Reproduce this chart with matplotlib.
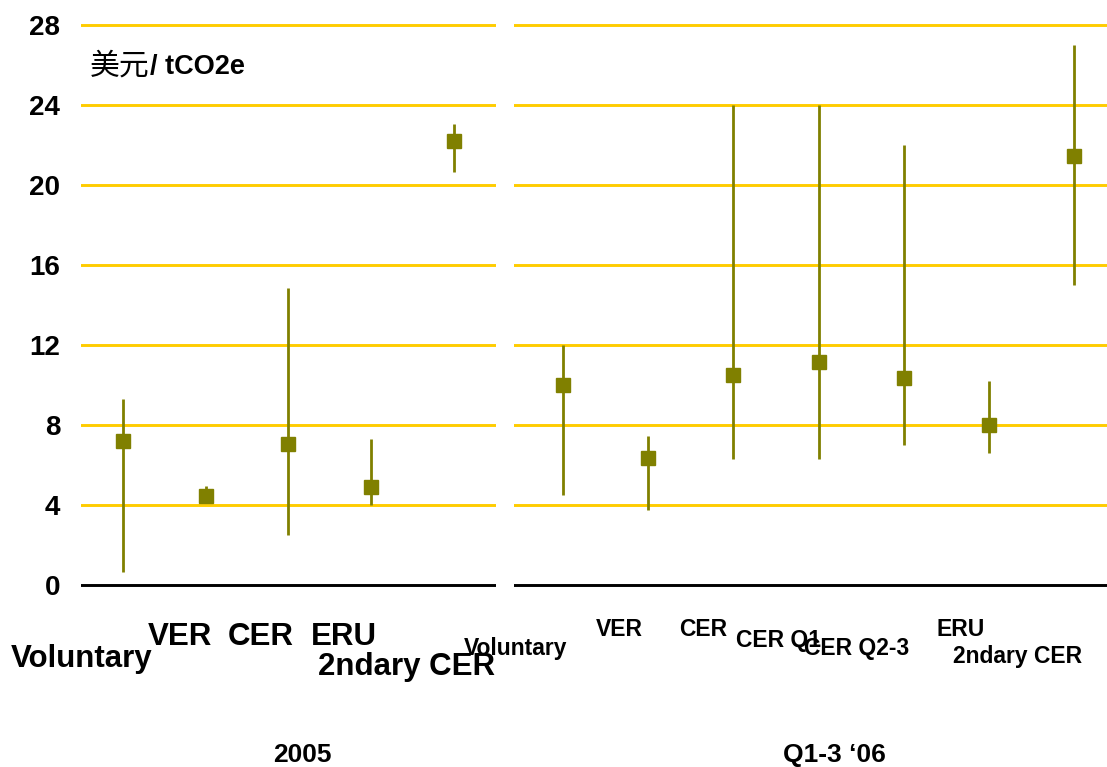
import matplotlib
matplotlib.use("Agg")
import matplotlib.pyplot as plt
from matplotlib.transforms import blended_transform_factory

plt.rcParams['font.family'] = ['Liberation Sans', 'Noto Sans CJK SC', 'DejaVu Sans']

# ---- data ----
cats_2005 = ["Voluntary", "VER", "CER", "ERU", "2ndary CER"]
mid_2005 = [7.2, 4.45, 7.05, 4.9, 22.2]
low_2005 = [0.65, 4.1, 2.5, 4.0, 20.65]
high_2005 = [9.3, 4.95, 14.85, 7.3, 23.05]

cats_06 = ["Voluntary", "VER", "CER", "CER Q1", "CER Q2-3", "ERU", "2ndary CER"]
mid_06 = [10.0, 6.35, 10.5, 11.15, 10.35, 8.0, 21.45]
low_06 = [4.5, 3.75, 6.3, 6.3, 7.0, 6.6, 15.0]
high_06 = [12.0, 7.45, 24.0, 24.0, 22.0, 10.2, 27.0]

yticks = [0, 4, 8, 12, 16, 20, 24, 28]
unit_cn = "美元"
unit_en = "/ tCO2e"
period_labels = ["2005", "Q1-3 \u201806"]

# label placement (x offset in category units, y in figure pixels from top)
lab_off_2005 = [(-0.5, 659), (-0.31, 637), (-0.34, 637), (-0.33, 637), (-0.57, 667)]
lab_off_06 = [(-0.56, 648), (-0.34, 629), (-0.35, 629), (-0.47, 641), (-0.55, 648), (-0.33, 629), (-0.66, 657)]

W, H = 1107, 767
fig = plt.figure(figsize=(W / 100, H / 100), dpi=100)

OLIVE = "#808000"
GOLD = "#FFCC00"
ylo, yhi = -0.3, 28.3
ppu = 20.0
y0px = 585
bottom_px = y0px - ylo * ppu
top_px = y0px - yhi * ppu


def make_ax(left_px, right_px, xlim):
    ax = fig.add_axes([left_px / W, 1 - bottom_px / H, (right_px - left_px) / W,
                       (bottom_px - top_px) / H])
    ax.set_xlim(*xlim)
    ax.set_ylim(ylo, yhi)
    for s in ax.spines.values():
        s.set_visible(False)
    ax.set_xticks([])
    for v in yticks:
        ax.axhline(v, color=(GOLD if v != 0 else "black"), lw=2.1, zorder=1)
    return ax


axL = make_ax(81, 496, (-0.508, 4.51))
axR = make_ax(514, 1107, (-0.575, 6.387))

axL.set_yticks(yticks)
axL.set_yticklabels([str(v) for v in yticks], fontsize=20, fontweight='bold')
axL.tick_params(axis='y', length=0, pad=15)
axR.set_yticks([])


def draw(ax, mids, lows, highs):
    xs = list(range(len(mids)))
    ax.vlines(xs, lows, highs, color=OLIVE, lw=2.0, zorder=3)
    ax.plot(xs, mids, ls='none', marker='s', ms=10, color=OLIVE, zorder=4)


draw(axL, mid_2005, low_2005, high_2005)
draw(axR, mid_06, low_06, high_06)

# category labels
trL = blended_transform_factory(axL.transData, fig.transFigure)
for i, (name, (dx, ypx)) in enumerate(zip(cats_2005, lab_off_2005)):
    axL.text(i + dx, 1 - ypx / H, name, transform=trL, ha='center', va='center',
             fontsize=22.5, fontweight='bold', clip_on=False)
trR = blended_transform_factory(axR.transData, fig.transFigure)
for i, (name, (dx, ypx)) in enumerate(zip(cats_06, lab_off_06)):
    axR.text(i + dx, 1 - ypx / H, name, transform=trR, ha='center', va='center',
             fontsize=16.5, fontweight='bold', clip_on=False)

# unit label: Chinese part regular, rest bold
t1 = fig.text(90 / W, 1 - 66 / H, unit_cn, ha='left', va='center', fontsize=21.5,
              family=['Noto Sans CJK SC', 'DejaVu Sans'])
fig.canvas.draw()
bb = t1.get_window_extent()
fig.text(bb.x1 / W, 1 - 67 / H, unit_en, ha='left', va='center', fontsize=19.5,
         fontweight='bold')

# period labels
fig.text(302 / W, 1 - 755 / H, period_labels[0], ha='center', va='center',
         fontsize=19, fontweight='bold')
fig.text(834 / W, 1 - 755 / H, period_labels[1], ha='center', va='center',
         fontsize=19, fontweight='bold')

fig.savefig("out.png", dpi=100)
